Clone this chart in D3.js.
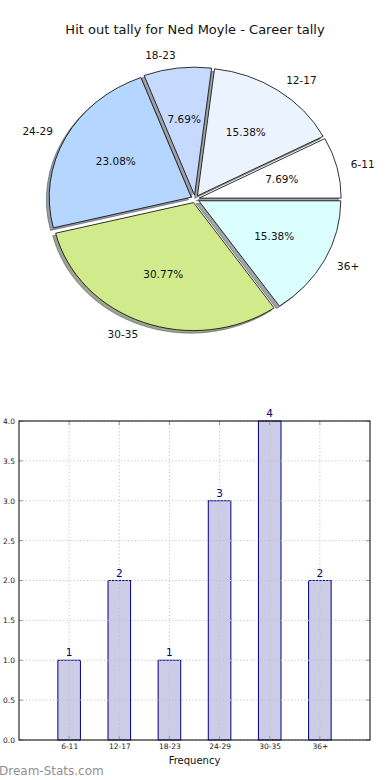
<!DOCTYPE html>
<html>
<head>
<meta charset="utf-8">
<script src="https://cdn.jsdelivr.net/npm/d3@7"></script>
<style>
  html, body { margin: 0; padding: 0; background: #fff; }
  svg { display: block; }
  text { font-family: "DejaVu Sans", sans-serif; }
</style>
</head>
<body>
<svg id="chart" width="390" height="780"></svg>
<script>
// ---- data ----
const title = "Hit out tally for Ned Moyle - Career tally";
const categories = ["6-11", "12-17", "18-23", "24-29", "30-35", "36+"];
const counts = [1, 2, 1, 3, 4, 2];
const pieColors = ["#ffffff", "#ebf3ff", "#c6d9ff", "#b5d6fe", "#d1eb8c", "#dafefe"];
const yTicks = [0, 0.5, 1, 1.5, 2, 2.5, 3, 3.5, 4];
const xLabel = "Frequency";
const watermark = "Dream-Stats.com";

const svg = d3.select("#chart");

// ---- title ----
svg.append("text").attr("x", 195).attr("y", 34).attr("text-anchor", "middle")
  .attr("font-size", 13).attr("fill", "#111").text(title);

// ---- pie ----
const cx = 195, cy = 199, rx = 142, ry = 128, explode = 0.03;
const total = d3.sum(counts);
const pie = d3.pie().sort(null).value(d => d)
  .startAngle(Math.PI / 2).endAngle(Math.PI / 2 - 2 * Math.PI);
const arcs = pie(counts);
const arc = d3.arc().innerRadius(0).outerRadius(rx);

const pg = svg.append("g").attr("transform", `translate(${cx},${cy}) scale(1,${ry / rx})`);

function off(d, k) {
  const m = (d.startAngle + d.endAngle) / 2;
  return [Math.sin(m) * k * rx, -Math.cos(m) * k * rx];
}
function shadeColor(c) {
  const col = d3.rgb(c);
  return d3.rgb(col.r * 0.3, col.g * 0.3, col.b * 0.3).toString();
}

// shadows
pg.selectAll("path.shadow").data(arcs).enter().append("path")
  .attr("class", "shadow")
  .attr("d", arc)
  .attr("transform", d => { const o = off(d, explode); return `translate(${o[0] - 0.02 * rx},${o[1] + 0.02 * rx})`; })
  .attr("fill", (d, i) => shadeColor(pieColors[i]))
  .attr("fill-opacity", 0.5)
  .attr("stroke", (d, i) => shadeColor(pieColors[i]))
  .attr("stroke-opacity", 0.5)
  .attr("stroke-width", 1)
  .attr("vector-effect", "non-scaling-stroke");

// wedges
pg.selectAll("path.wedge").data(arcs).enter().append("path")
  .attr("class", "wedge")
  .attr("d", arc)
  .attr("transform", d => { const o = off(d, explode); return `translate(${o[0]},${o[1]})`; })
  .attr("fill", (d, i) => pieColors[i])
  .attr("stroke", "#000")
  .attr("stroke-width", 0.8)
  .attr("vector-effect", "non-scaling-stroke");

// labels
arcs.forEach((d, i) => {
  const m = (d.startAngle + d.endAngle) / 2;
  const ux = Math.sin(m), uy = -Math.cos(m);
  const ex = ux * explode * rx, ey = uy * explode * ry;
  const lx = cx + ex + 1.1 * rx * ux, ly = cy + ey + 1.1 * ry * uy;
  svg.append("text").attr("x", lx).attr("y", ly)
    .attr("dy", "0.35em").attr("font-size", 10.5).attr("fill", "#111")
    .attr("text-anchor", ux > 0 ? "start" : "end")
    .text(categories[i]);
  const px = cx + ex + 0.6 * rx * ux, py = cy + ey + 0.6 * ry * uy;
  svg.append("text").attr("x", px).attr("y", py)
    .attr("dy", "0.35em").attr("font-size", 10.5).attr("fill", "#111")
    .attr("text-anchor", "middle")
    .text((counts[i] / total * 100).toFixed(2) + "%");
});

// ---- bar chart ----
const L = 19, R = 370, T = 421, B = 740;
const x = d3.scaleLinear().domain([0, categories.length + 1]).range([L, R]);
const y = d3.scaleLinear().domain([0, 4]).range([B, T]);
const bw = 0.45;

const bg = svg.append("g");
const gridColor = "#c4c4c4";

// bars
bg.selectAll("rect.bar").data(counts).enter().append("rect")
  .attr("x", (d, i) => x(i + 1 - bw / 2)).attr("width", x(bw) - x(0))
  .attr("y", d => y(d)).attr("height", d => B - y(d))
  .attr("fill", "#000080").attr("fill-opacity", 0.2)
  .attr("stroke", "#000080").attr("stroke-width", 1);

// grid (drawn above bars)
bg.selectAll("line.vg").data(categories).enter().append("line")
  .attr("x1", (d, i) => x(i + 1)).attr("x2", (d, i) => x(i + 1)).attr("y1", T).attr("y2", B)
  .attr("stroke", gridColor).attr("stroke-width", 1).attr("stroke-dasharray", "1.2,2.2");
bg.selectAll("line.hg").data(yTicks).enter().append("line")
  .attr("x1", L).attr("x2", R).attr("y1", d => y(d)).attr("y2", d => y(d))
  .attr("stroke", gridColor).attr("stroke-width", 1).attr("stroke-dasharray", "1.2,2.2");

// value labels
bg.selectAll("text.val").data(counts).enter().append("text")
  .attr("x", (d, i) => x(i + 1)).attr("y", d => y(d) - 4)
  .attr("text-anchor", "middle").attr("font-size", 10.5).attr("fill", "#000080")
  .text(d => d);

// axes
const yAxis = d3.axisLeft(y).tickValues(yTicks).tickFormat(d3.format(".1f")).tickSize(0).tickPadding(4);
const ya = bg.append("g").attr("transform", `translate(${L},0)`).call(yAxis);
ya.select(".domain").remove();
ya.selectAll("text").attr("font-size", 7.5).attr("fill", "#222").attr("font-family", "DejaVu Sans");

const xAxis = d3.axisBottom(x).tickValues(d3.range(1, categories.length + 1))
  .tickFormat(d => categories[d - 1]).tickSize(0).tickPadding(4);
const xa = bg.append("g").attr("transform", `translate(0,${B})`).call(xAxis);
xa.select(".domain").remove();
xa.selectAll("text").attr("font-size", 7.5).attr("fill", "#222").attr("font-family", "DejaVu Sans");

// tick marks (inside, all four sides)
yTicks.forEach(t => {
  bg.append("line").attr("x1", L).attr("x2", L + 4).attr("y1", y(t)).attr("y2", y(t)).attr("stroke", "#999");
  bg.append("line").attr("x1", R - 4).attr("x2", R).attr("y1", y(t)).attr("y2", y(t)).attr("stroke", "#999");
});
d3.range(1, categories.length + 1).forEach(t => {
  bg.append("line").attr("x1", x(t)).attr("x2", x(t)).attr("y1", B).attr("y2", B - 4).attr("stroke", "#999");
  bg.append("line").attr("x1", x(t)).attr("x2", x(t)).attr("y1", T).attr("y2", T + 4).attr("stroke", "#999");
});

// frame
bg.append("rect").attr("x", L).attr("y", T).attr("width", R - L).attr("height", B - T)
  .attr("fill", "none").attr("stroke", "#000").attr("stroke-width", 1);

// x label
svg.append("text").attr("x", (L + R) / 2).attr("y", 764).attr("text-anchor", "middle")
  .attr("font-size", 10).attr("fill", "#111").text(xLabel);

// watermark
svg.append("text").attr("x", -1).attr("y", 775).attr("font-size", 12)
  .attr("fill", "#8f8f8f").text(watermark);
</script>
</body>
</html>
